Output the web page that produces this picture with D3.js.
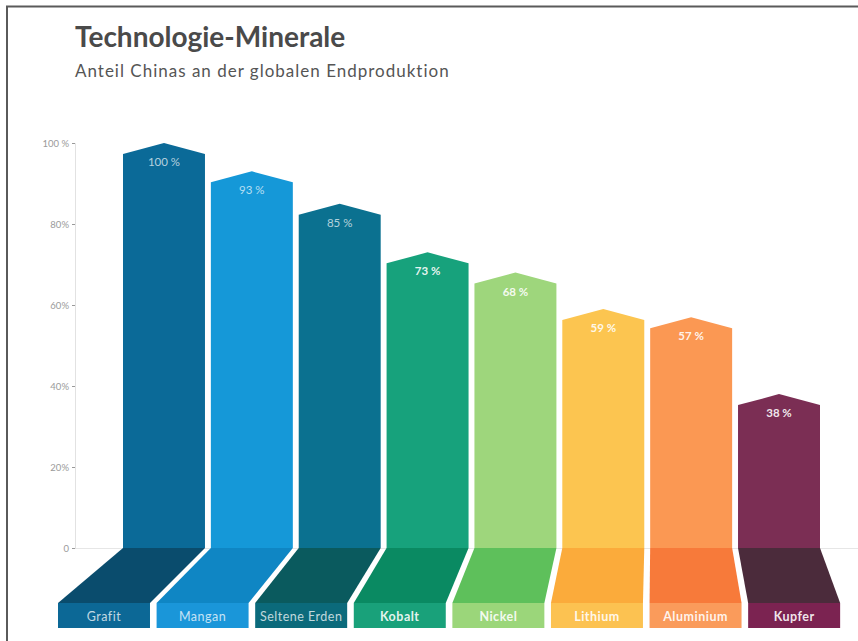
<!DOCTYPE html>
<html>
<head>
<meta charset="utf-8">
<script src="https://cdn.jsdelivr.net/npm/d3@7"></script>
<style>
  html, body { margin: 0; padding: 0; background: #fff; }
  svg { display: block; }
</style>
</head>
<body>
<svg id="chart" width="858" height="641"></svg>
<script>
const categories = ["Grafit", "Mangan", "Seltene Erden", "Kobalt", "Nickel", "Lithium", "Aluminium", "Kupfer"];
const values = [100, 93, 85, 73, 68, 59, 57, 38];
const valueLabels = ["100 %", "93 %", "85 %", "73 %", "68 %", "59 %", "57 %", "38 %"];
const tickValues = [0, 20, 40, 60, 80, 100];
const tickLabels = ["0", "20%", "40%", "60%", "80%", "100 %"];
const barColors = ["#0b6a98", "#1598d8", "#0b7190", "#17a27c", "#9ed67c", "#fcc550", "#fb9853", "#7b2e54"];
const floorColors = ["#0a4c6d", "#0f86c4", "#0a5a5e", "#0a8a62", "#5ec05b", "#fbab3b", "#f77a3a", "#4b2b3b"];
const bandColors = ["#0c6896", "#1a96d9", "#0b6a7b", "#19a17a", "#9bd67a", "#fcc251", "#fa9b5b", "#7b2351"];
const titleText = "Technologie-Minerale";
const subtitleText = "Anteil Chinas an der globalen Endproduktion";

const svg = d3.select("#chart");
const font = "Lato, 'Open Sans', sans-serif";

// frame
svg.append("line").attr("x1", 7).attr("x2", 7).attr("y1", 6).attr("y2", 641)
  .attr("stroke", "#5a5a5a").attr("stroke-width", 2);
svg.append("line").attr("x1", 6).attr("x2", 858).attr("y1", 6.5).attr("y2", 6.5)
  .attr("stroke", "#5a5a5a").attr("stroke-width", 2);

// titles
svg.append("text").attr("x", 75).attr("y", 47).text(titleText)
  .attr("font-family", font).attr("font-weight", 700).attr("font-size", 28)
  .attr("fill", "#4a4a4a");
svg.append("text").attr("x", 75).attr("y", 77).text(subtitleText)
  .attr("font-family", font).attr("font-size", 17).attr("letter-spacing", 1)
  .attr("fill", "#555");

const baseY = 548, floorBottom = 603, bandBottom = 628;
const x = d3.scaleBand().domain(categories).range([123, 820]).paddingInner(0.067).paddingOuter(0);
const y = d3.scaleLinear().domain([0, 100]).range([baseY, 143]);
// perspective mapping of floor bottom edges
const fx = d3.scaleLinear().domain([123, 737]).range([58, 747]);

// faint floor line
svg.append("line").attr("x1", 75).attr("x2", 858).attr("y1", baseY + 0.5).attr("y2", baseY + 0.5)
  .attr("stroke", "#e6e6e6").attr("stroke-width", 1);

// axis
const axis = d3.axisLeft(y).tickValues(tickValues).tickSize(3)
  .tickFormat((d, i) => tickLabels[i]);
const gAxis = svg.append("g").attr("transform", "translate(75,0)").call(axis);
gAxis.select(".domain").attr("stroke", "#e2e2e2");
gAxis.selectAll(".tick line").attr("stroke", "#999");
gAxis.selectAll(".tick text").attr("fill", "#9a9a9a").attr("font-family", font)
  .attr("font-size", 9.5).attr("x", -6);

const line = d3.line();
const g = svg.append("g");

categories.forEach((c, i) => {
  const x0 = x(c), x1 = x(c) + x.bandwidth(), xc = (x0 + x1) / 2;
  const yv = y(values[i]);
  const bx0 = fx(x0), bx1 = fx(x1);
  // floor
  g.append("path")
    .attr("d", line([[x0, baseY], [x1, baseY], [bx1, floorBottom], [bx0, floorBottom]]) + "Z")
    .attr("fill", floorColors[i]);
  // band
  g.append("rect").attr("x", bx0).attr("y", floorBottom).attr("width", bx1 - bx0)
    .attr("height", bandBottom - floorBottom).attr("fill", bandColors[i]);
  // bar with roof
  g.append("path")
    .attr("d", line([[x0, baseY], [x0, yv + 11], [xc, yv], [x1, yv + 11], [x1, baseY]]) + "Z")
    .attr("fill", barColors[i]);
  // value label
  g.append("text").attr("x", xc).attr("y", yv + 23).attr("text-anchor", "middle")
    .text(valueLabels[i]).attr("font-family", font).attr("font-weight", i >= 3 ? 700 : 400)
    .attr("font-size", 11.5).attr("fill", "#fff").attr("fill-opacity", i >= 3 ? 0.9 : 0.7);
  // category label
  g.append("text").attr("x", (bx0 + bx1) / 2).attr("y", 621).attr("text-anchor", "middle")
    .text(c).attr("font-family", font).attr("font-size", 12.5).attr("letter-spacing", 0.5)
    .attr("font-weight", i >= 3 ? 700 : 400)
    .attr("fill", "#fff").attr("fill-opacity", i >= 3 ? 0.9 : 0.75);
});
</script>
</body>
</html>
